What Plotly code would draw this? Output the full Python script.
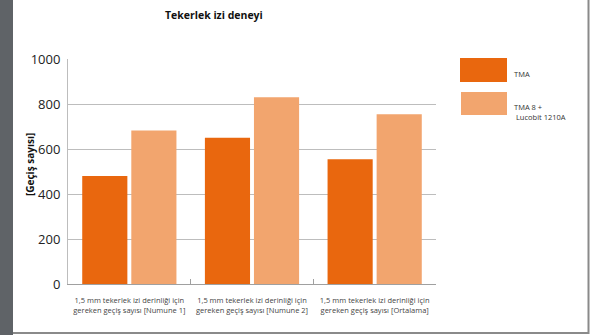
import plotly.graph_objects as go

categories = [
    "1,5 mm tekerlek izi derinliği için<br>gereken geçiş sayısı [Numune 1]",
    "1,5 mm tekerlek izi derinliği için<br>gereken geçiş sayısı [Numune 2]",
    "1,5 mm tekerlek izi derinliği için<br>gereken geçiş sayısı [Ortalama]",
]
series_names = ["TMA", "TMA 8 +<br> Lucobit 1210A"]
tma_values = [480, 650, 555]
tma8_values = [682, 830, 755]
y_ticks = [0, 200, 400, 600, 800, 1000]
colors = ["#E9670E", "#F2A56E"]

W, H = 590, 335
L, R, T, B = 68, 154, 59, 51
pw, ph = W - L - R, H - T - B

def px(x):
    return (x - L) / pw

def py(y):
    return (H - B - y) / ph

fig = go.Figure()
for name, vals, c in zip(series_names, [tma_values, tma8_values], colors):
    fig.add_trace(go.Bar(x=categories, y=vals, name=name, marker=dict(color=c, line=dict(width=0))))

fig.update_layout(
    width=W, height=H,
    margin=dict(l=L, r=R, t=T, b=B),
    paper_bgcolor="white", plot_bgcolor="white",
    barmode="group", bargap=0.2, bargroupgap=0.08,
    showlegend=False,
    font=dict(family="Open Sans", color="#333"),
)
fig.update_yaxes(
    range=[0, 1000], tickvals=y_ticks, showgrid=True, gridcolor="#BDBDBD", gridwidth=1,
    showline=True, linecolor="#BDBDBD", linewidth=1, zeroline=False,
    tickfont=dict(size=13, color="#222"), ticks="", ticklabelstandoff=4,
)
fig.update_xaxes(
    showline=True, linecolor="#A0A0A0", linewidth=1, tickson="boundaries",
    ticks="inside", ticklen=5, tickcolor="#A0A0A0", ticklabelstandoff=9,
    tickfont=dict(size=7.5, color="#444"), showgrid=False,
)

shapes = []
# left dark strip
shapes.append(dict(type="rect", xref="paper", yref="paper", x0=px(0), x1=px(13), y0=py(H), y1=py(0),
                   fillcolor="#5F6367", line=dict(width=0), layer="below"))
# bottom and right frame lines
shapes.append(dict(type="line", xref="paper", yref="paper", x0=px(13), x1=px(589), y0=py(333), y1=py(333),
                   line=dict(color="#8A8A8A", width=2)))
shapes.append(dict(type="line", xref="paper", yref="paper", x0=px(588.5), x1=px(588.5), y0=py(0), y1=py(334),
                   line=dict(color="#8A8A8A", width=2)))
# legend swatches
shapes.append(dict(type="rect", xref="paper", yref="paper", x0=px(460), x1=px(507), y0=py(82), y1=py(58),
                   fillcolor=colors[0], line=dict(width=0)))
shapes.append(dict(type="rect", xref="paper", yref="paper", x0=px(461), x1=px(507), y0=py(115), y1=py(92),
                   fillcolor=colors[1], line=dict(width=0)))

annotations = [
    dict(text="<b>Tekerlek izi deneyi</b>", xref="paper", yref="paper", x=px(214), y=py(15),
         showarrow=False, font=dict(size=10.5, color="#111"), xanchor="center", yanchor="middle"),
    dict(text="<b>[Geçiş sayısı]</b>", xref="paper", yref="paper", x=px(30), y=py(165),
         showarrow=False, textangle=-90, font=dict(size=10, color="#111"), xanchor="center", yanchor="middle"),
    dict(text=series_names[0], xref="paper", yref="paper", x=px(512), y=py(74),
         showarrow=False, font=dict(size=7.5, color="#333"), xanchor="left", yanchor="middle"),
    dict(text=series_names[1], xref="paper", yref="paper", x=px(512), y=py(112), align="left",
         showarrow=False, font=dict(size=7.5, color="#333"), xanchor="left", yanchor="middle"),
]
fig.update_layout(shapes=shapes, annotations=annotations)
fig.write_html("out.html", config={"displayModeBar": False},
               post_script="document.body.style.margin='0';document.body.style.overflow='hidden';")
